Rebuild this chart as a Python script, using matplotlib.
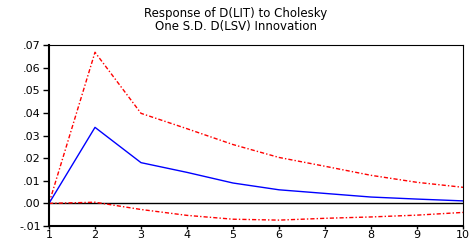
import matplotlib
matplotlib.use("Agg")
import matplotlib.pyplot as plt

periods = [1, 2, 3, 4, 5, 6, 7, 8, 9, 10]
response = [0.0, 0.0336, 0.0180, 0.0137, 0.0090, 0.0060, 0.0044, 0.0028, 0.0019, 0.0011]
upper = [0.0, 0.0668, 0.0398, 0.0330, 0.0260, 0.0203, 0.0164, 0.0124, 0.0093, 0.0071]
lower = [0.0, 0.0005, -0.0027, -0.0053, -0.0070, -0.0074, -0.0066, -0.0060, -0.0052, -0.0040]

yticks = [-0.01, 0.00, 0.01, 0.02, 0.03, 0.04, 0.05, 0.06, 0.07]
ytick_labels = ["-.01", ".00", ".01", ".02", ".03", ".04", ".05", ".06", ".07"]

fig = plt.figure(figsize=(4.72, 2.41), dpi=100)
ax = fig.add_axes([49 / 472, 1 - 226 / 241, (463 - 49) / 472, (226 - 45) / 241])

ax.axhline(0, color="black", lw=1.0)
ax.plot(periods, upper, color="red", lw=1.0, ls=(0, (3, 1.5, 1, 1.5)))
ax.plot(periods, lower, color="red", lw=1.0, ls=(0, (3, 1.5, 1, 1.5)))
ax.plot(periods, response, color="blue", lw=1.0)

ax.set_xlim(1, 10)
ax.set_ylim(-0.01, 0.07)
ax.set_xticks(periods)
ax.set_yticks(yticks)
ax.set_yticklabels(ytick_labels)
ax.tick_params(axis="y", labelsize=8, length=4, width=1, pad=2, colors="black")
ax.tick_params(axis="x", labelsize=8, length=2, width=1, pad=1, colors="black")
for side in ["left", "bottom"]:
    ax.spines[side].set_linewidth(1.5)
for side in ["top", "right"]:
    ax.spines[side].set_linewidth(0.8)

fig.text(0.5, 1 - 20 / 241, "Response of D(LIT) to Cholesky\nOne S.D. D(LSV) Innovation",
         ha="center", va="center", fontsize=8.5, linespacing=0.95)

fig.savefig("out.png", dpi=100)
